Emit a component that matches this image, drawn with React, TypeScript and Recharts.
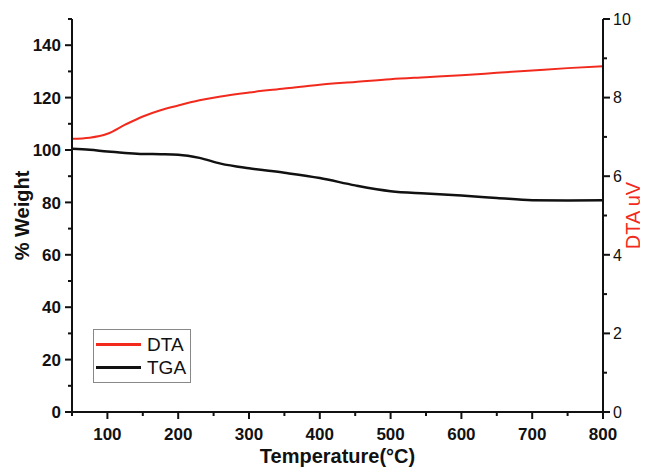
import { LineChart, Line, XAxis, YAxis, Label } from "recharts"

const temps = [50, 75, 100, 125, 150, 175, 200, 230, 260, 300, 350, 400, 450, 500, 550, 600, 650, 700, 750, 800]
const tga = [100.5, 100.1, 99.4, 98.9, 98.5, 98.4, 98.2, 97.0, 94.8, 93.0, 91.3, 89.3, 86.5, 84.3, 83.4, 82.6, 81.7, 80.8, 80.7, 80.8]
const dta = [6.95, 6.98, 7.08, 7.31, 7.52, 7.68, 7.8, 7.93, 8.03, 8.13, 8.23, 8.33, 8.4, 8.47, 8.52, 8.57, 8.63, 8.69, 8.75, 8.8]

const xTicks = [50, 100, 150, 200, 250, 300, 350, 400, 450, 500, 550, 600, 650, 700, 750, 800]
const leftTicks = [0, 10, 20, 30, 40, 50, 60, 70, 80, 90, 100, 110, 120, 130, 140, 150]
const rightTicks = [0, 1, 2, 3, 4, 5, 6, 7, 8, 9, 10]

const data = temps.map((t, i) => ({ t, tga: tga[i], dta: dta[i] }))

const FONT = "'Liberation Sans', Arial, sans-serif"
const RED = "#f22a1e"

function LeftTick(props: any) {
  const { x, y, payload } = props
  const major = payload.value % 20 === 0
  return (
    <g>
      <line x1={x} x2={x - (major ? 7 : 4)} y1={y} y2={y} stroke="#111" strokeWidth={2} />
      {major && (
        <text x={x - 11} y={y} dy="0.36em" textAnchor="end" fontFamily={FONT} fontWeight="bold" fontSize={17} fill="#111">
          {payload.value}
        </text>
      )}
    </g>
  )
}

function RightTick(props: any) {
  const { x, y, payload } = props
  const major = payload.value % 2 === 0
  return (
    <g>
      <line x1={x} x2={x + (major ? 7 : 4)} y1={y} y2={y} stroke="#111" strokeWidth={2} />
      {major && (
        <text x={x + 10} y={y} dy="0.36em" textAnchor="start" fontFamily={FONT} fontSize={16} fill="#111">
          {payload.value}
        </text>
      )}
    </g>
  )
}

function BottomTick(props: any) {
  const { x, y, payload } = props
  const major = payload.value % 100 === 0
  return (
    <g>
      <line x1={x} x2={x} y1={y} y2={y + (major ? 7 : 4)} stroke="#111" strokeWidth={2} />
      {major && (
        <text x={x} y={y + 28} textAnchor="middle" fontFamily={FONT} fontWeight="bold" fontSize={17} fill="#111">
          {payload.value}
        </text>
      )}
    </g>
  )
}

function LegendBox() {
  const rows = [
    { name: "DTA", color: RED },
    { name: "TGA", color: "#111" },
  ]
  return (
    <div style={{ position: "absolute", left: 85, top: 321, border: "1px solid #888", background: "#fff", width: 98, height: 54, boxSizing: "border-box", padding: "3px 0 0 2px" }}>
      {rows.map((r) => (
        <div key={r.name} style={{ display: "flex", alignItems: "center", height: 23 }}>
          <div style={{ width: 45, height: 2.5, background: r.color, marginRight: 6 }} />
          <span style={{ fontFamily: FONT, fontSize: 19, color: "#111" }}>{r.name}</span>
        </div>
      ))}
    </div>
  )
}

export default function App() {
  return (
    <div style={{ position: "relative", width: 640, height: 462, background: "#fff" }}>
      <LineChart width={640} height={462} data={data} margin={{ top: 11, right: 0, bottom: 8, left: 0 }}>
        <XAxis
          dataKey="t"
          type="number"
          domain={[50, 800]}
          ticks={xTicks}
          height={50}
          axisLine={{ stroke: "#111", strokeWidth: 2 }}
          tickLine={false}
          tickSize={0}
          tickMargin={0}
          tick={<BottomTick />}
          interval={0}
        >
          <Label
            content={(p: any) => {
              const vb = p.viewBox
              return (
                <text x={vb.x + vb.width / 2} y={vb.y + 51} textAnchor="middle" fontFamily={FONT} fontWeight="bold" fontSize={20} fill="#111">
                  Temperature(°C)
                </text>
              )
            }}
          />
        </XAxis>
        <YAxis
          yAxisId="left"
          domain={[0, 150]}
          ticks={leftTicks}
          width={64}
          axisLine={{ stroke: "#111", strokeWidth: 2 }}
          tickLine={false}
          tickSize={0}
          tickMargin={0}
          tick={<LeftTick />}
          interval={0}
        >
          <Label
            content={(p: any) => {
              const vb = p.viewBox
              const cx = vb.x + 21
              const cy = vb.y + vb.height / 2
              return (
                <text x={cx} y={cy} transform={`rotate(-90 ${cx} ${cy})`} textAnchor="middle" fontFamily={FONT} fontWeight="bold" fontSize={20} fill="#111">
                  % Weight
                </text>
              )
            }}
          />
        </YAxis>
        <YAxis
          yAxisId="right"
          orientation="right"
          domain={[0, 10]}
          ticks={rightTicks}
          width={45}
          axisLine={{ stroke: "#111", strokeWidth: 2 }}
          tickLine={false}
          tickSize={0}
          tickMargin={0}
          tick={<RightTick />}
          interval={0}
        >
          <Label
            content={(p: any) => {
              const vb = p.viewBox
              const cx = vb.x + 37
              const cy = vb.y + vb.height / 2
              return (
                <text x={cx} y={cy} transform={`rotate(-90 ${cx} ${cy})`} textAnchor="middle" fontFamily={FONT} fontSize={20} fill={RED}>
                  DTA uV
                </text>
              )
            }}
          />
        </YAxis>
        <Line yAxisId="right" dataKey="dta" name="DTA" type="monotone" stroke={RED} strokeWidth={2} dot={false} isAnimationActive={false} />
        <Line yAxisId="left" dataKey="tga" name="TGA" type="monotone" stroke="#111" strokeWidth={2.5} dot={false} isAnimationActive={false} />
      </LineChart>
      <LegendBox />
    </div>
  )
}
